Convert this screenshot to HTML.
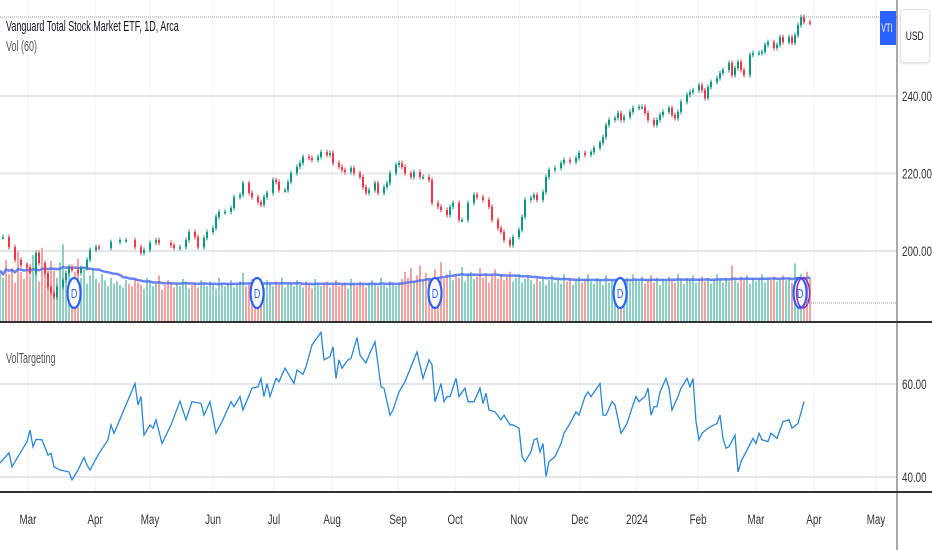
<!DOCTYPE html>
<html><head><meta charset="utf-8"><style>
html,body{margin:0;padding:0;background:#fff;width:932px;height:550px;overflow:hidden}
svg{display:block}
text{font-family:"Liberation Sans",sans-serif}
.lbl{position:absolute;font:15px 'Liberation Sans',sans-serif;transform:scaleX(0.6);transform-origin:0 0;white-space:nowrap}
</style></head><body>
<svg id="chart" width="932" height="550" viewBox="0 0 932 550">
 <g id="grid"></g>
 <g id="vol"></g>
 <g id="candles"></g>
 <g id="ind"></g>
 <g id="axes"></g>
</svg>
<script>
// ---- data ----
const priceIdx=[0,1,3,5,7,9,10,12,13,15,16,17,18,19,21,22,23,24,26,27,29,30,32,33,37,40,42,45,47,48,50,52,53,57,58,60,62,63,65,66,68,69,71,72,73,75,77,78,80,81,83,84,86,87,88,89,91,92,93,95,96,97,99,100,101,103,104,106,107,109,110,111,113,114,115,117,118,120,121,122,123,125,126,128,129,130,132,133,134,135,137,138,140,141,143,144,146,147,149,150,151,153,154,156,158,159,161,163,164,166,167,168,170,171,173,174,175,177,178,179,181,182,183,185,187,188,190,192,193,195,197,198,200,201,202,203,205,206,207,208,210,211,213,214,215,216,218,219,220,221,223,224,225,226,227,229,230,231,233,234,235,236,237,239,240,241,243,244,245,246,247,248,250,251,253,254,255,256,258,259,260,261,263,264,265,266,267,268,270];
const priceClose=[203.6,203.6,201,197.7,196.4,195.9,194.3,199.5,196.9,194.3,190.7,189.2,188.1,190.7,192.5,194.3,195.9,195.1,194.3,195.6,197.7,200.3,201,200.8,202.3,202.8,202.8,201,199.5,200.3,202.1,202.8,202.1,201.5,200.8,201,202.8,204.9,203.6,201,203.4,204.9,205.9,208.8,210.1,210.1,211.1,213.9,214.5,217.5,215,213.9,212.6,211.9,213.9,215,218.3,217.8,215.7,215.7,217.8,220.1,221.7,222.7,224.3,224,223.5,224.3,225.5,224.8,225.3,222.7,221.7,220.9,220.4,221.4,220.1,219.1,216.5,215,215.7,217.5,215,216.5,217.5,220.1,222.2,222.7,221.7,220.1,219.1,220.4,219.1,219.1,218.3,212.4,211.4,210.6,209.3,211.4,212.4,208,208,212.4,214.5,213.9,213.2,211.4,208,205.9,204.9,202.8,201.5,203.6,205.4,208.8,213.2,213.7,214.5,213.2,215.2,219.1,220.9,221.4,222.7,223.5,223,224,225.3,224.8,225.5,226.6,227.9,229.4,232.5,233.8,234.3,235.6,233.8,234.6,235.9,236.9,237.2,237.2,235.6,233.8,232.5,233.8,235.1,235.9,236.9,235.1,234.3,235.9,238.5,240.3,241,241.5,242.8,241.5,239.5,242.3,243.6,244.6,245.9,246.7,248.5,245.4,247.2,248.8,246.7,245.4,250.6,251.1,251.1,251.4,253.2,253.9,252.4,253.2,255.2,253.9,255.2,253.7,255.7,258.3,260.4,259.1,258.8];
const volumes=[4.2,3.6,5.1,3.9,4.4,3.2,5.8,4.1,3.5,4.8,3.7,5.5,4.0,3.3,6.1,4.6,3.8,5.0,4.2,3.6,4.9,6.4,3.9,4.5,3.4,4.1,5.2,3.6,4.3,3.1,3.8,4.4,3.5,3.2,3.9,3.4,2.9,3.6,3.1,3.3,3.0,2.8,3.4,3.1,2.9,3.5,3.2,3.0,2.7,3.6,3.3,2.9,3.1,3.8,2.6,3.0,3.4,3.2,2.8,3.1,2.9,3.5,3.3,2.7,3.0,3.2,2.8,3.4,3.1,2.9,3.3,3.0,2.7,3.6,3.2,2.9,3.1,3.4,2.8,3.0,3.3,4.0,2.9,3.1,3.5,2.8,3.2,3.0,2.7,3.4,3.1,2.9,3.3,3.0,3.6,2.8,3.1,3.2,2.9,3.4,3.0,2.8,3.3,3.1,2.7,3.5,3.2,2.9,3.0,3.3,2.8,3.1,3.4,2.9,3.0,3.2,2.7,3.5,3.1,2.9,3.3,3.0,2.8,3.2,3.4,3.1,2.9,3.6,3.0,2.8,3.3,3.1,2.9,3.2,3.5,4.1,3.6,4.4,3.3,3.8,4.6,3.4,4.0,3.6,3.2,4.3,3.7,4.9,3.5,3.9,4.2,3.4,3.8,3.6,4.5,3.3,3.9,4.1,3.5,3.7,4.4,3.6,4.0,3.2,3.8,4.3,3.5,3.9,3.4,3.7,4.1,3.3,3.6,3.9,3.2,3.5,3.8,3.4,3.1,3.7,3.3,3.6,3.0,3.4,3.8,3.2,3.5,3.1,3.9,3.3,3.6,3.0,3.4,3.7,3.2,3.5,3.9,3.3,3.1,3.6,3.4,3.0,3.8,3.2,3.5,3.3,3.1,3.7,3.4,3.6,3.2,3.9,3.5,3.3,3.7,3.1,3.4,3.8,3.2,3.6,3.0,3.5,3.3,3.7,3.4,3.2,3.9,3.5,3.1,3.6,3.4,3.8,3.2,3.5,3.7,3.3,3.6,3.1,3.4,3.9,3.5,3.2,3.6,3.3,4.6,3.5,3.2,3.7,3.4,3.8,3.1,3.6,3.3,3.5,3.9,3.2,3.6,3.4,3.7,3.3,3.5,3.8,3.4,3.6,3.2,4.8,3.5,3.9,3.3,4.1,3.6];
const vtIdx=[0,3,4,6,9,10,11,12,14,16,17,18,20,23,24,26,28,29,30,33,36,37,38,42,45,46,47,48,50,51,52,54,57,60,62,64,67,68,70,72,74,77,78,80,81,84,86,87,88,89,90,92,93,95,98,99,101,102,104,107,108,110,111,112,113,114,116,117,119,120,122,123,125,127,128,130,131,133,135,137,139,141,143,144,145,147,148,149,150,152,153,155,156,158,160,161,162,163,165,167,168,170,171,173,174,175,177,178,179,180,181,182,183,185,187,188,190,192,193,195,196,197,200,201,202,204,205,207,209,211,212,213,215,216,217,218,219,220,222,223,224,226,227,228,229,230,231,232,233,234,236,238,239,240,241,242,243,245,246,247,249,251,252,253,254,256,257,259,261,263,264,266,268];
const vtValues=[43,45.2,42.2,44.4,47.6,50.1,46.5,48.1,48,44.7,45.1,42.2,41.5,41.1,39.4,41.5,44.2,42.6,41.5,45.1,48,51.2,49.4,55.5,60.1,55.5,57.3,49,51.2,50.5,52.3,47.2,51.2,56.3,52.3,56.2,55.8,53.3,56.2,49.4,51.9,56.2,55.1,57.3,54.4,59.1,59.4,61.2,57.3,60.1,57.3,61.2,60.5,63.4,60.1,63,62.1,63.7,68.4,71.1,65.2,65.9,68,61.2,65.2,63.4,65.2,65.5,70,66.2,64.5,66.2,69.1,59.4,59.1,53.3,54.4,58.3,60.5,63.7,66.9,61.2,65.2,64.1,56.2,60.1,56.2,57.3,57.3,61.2,57.3,59.1,56.2,56.2,59.1,55.8,58,54.4,54,52.3,53.3,51.2,51.2,50.5,44.4,43.3,45.4,48,48.3,45.4,47.2,40.1,43.3,44.4,47.2,49.4,51.5,54,53.3,57.3,58.3,57.3,60.1,53.3,53.3,56.2,55.5,49.4,51.5,55.5,57.3,56.2,57.3,59.1,53.3,55.1,55.1,58.3,61.2,59.1,54.4,57.3,59.1,60.1,61.2,59.4,61.2,51.9,48,49.4,50.5,51.2,51.5,53.3,48.3,46.2,46.5,49,41.1,43.3,45.8,48.3,47.2,49.4,48,47.6,49.4,48.3,51.9,52.3,50.5,51.5,56.2];
const priceTicks=[200,220,240];
const priceTickLabels=["200.00","220.00","240.00"];
const vtTicks=[40,60];
const vtTickLabels=["40.00","60.00"];
const monthLabels=["Mar","Apr","May","Jun","Jul","Aug","Sep","Oct","Nov","Dec","2024","Feb","Mar","Apr","May"];
const monthIdx=[9.3,31.7,50,71,91.3,110.7,132.7,151.7,173,193.3,212.3,232.7,252,271.3,292];
const dividendIdx=[24.7,85.7,145,206.7,266.7];

// ---- scales ----
const NS="http://www.w3.org/2000/svg";
const PLOT_R=897;
const SX=0.7;
const xS=i=>i*3;
const yP=p=>251-(p-200)*3.875;
const yV=v=>477-(v-40)*4.65;
const yVol=v=>321-v*12;
function mk(tag,attrs,parent){const e=document.createElementNS(NS,tag);for(const k in attrs)e.setAttribute(k,attrs[k]);parent.appendChild(e);return e;}
function txt(parent,x,y,str,anchor,size,fill){const t=mk('text',{transform:'translate('+x+','+y+') scale('+SX+',1)','font-size':size,'text-anchor':anchor,fill:fill},parent);t.textContent=str;return t;}
const grid=document.getElementById('grid'),volG=document.getElementById('vol'),cG=document.getElementById('candles'),indG=document.getElementById('ind'),axG=document.getElementById('axes');

monthIdx.forEach((m,i)=>{const l=mk('line',{x1:xS(m),x2:xS(m),y1:0,y2:492,stroke:'#f0f3fa','stroke-width':1},grid);

});
priceTicks.forEach(p=>{const l=mk('line',{x1:0,x2:PLOT_R,y1:yP(p),y2:yP(p),stroke:'#e3e6ec','stroke-width':2},grid);

});
vtTicks.forEach(p=>{const l=mk('line',{x1:0,x2:PLOT_R,y1:yV(p),y2:yV(p),stroke:'#e3e6ec','stroke-width':2},grid);

});

function dirAt(i){for(let k=1;k<priceIdx.length;k++){if(priceIdx[k]>=i)return priceClose[k]>=priceClose[k-1];}return true;}
volumes.forEach((v,i)=>{const up=dirAt(i);const r=mk('rect',{x:xS(i)-0.9,y:yVol(v),width:1.8,height:321-yVol(v),fill:up?'#7fcabd':'#f29b98'},volG);

});
let ma=[];for(let i=0;i<volumes.length;i++){let s=0,n=0;for(let j=Math.max(0,i-19);j<=i;j++){s+=volumes[j];n++;}ma.push(s/n);}
const maPath=mk('path',{d:ma.map((v,i)=>(i?'L':'M')+xS(i)+' '+yVol(v)).join(' '),fill:'none',stroke:'#4f6ff0','stroke-width':2.5,'stroke-opacity':0.85},volG);


for(let k=1;k<priceIdx.length;k++){const o=priceClose[k-1],c=priceClose[k];const up=c>=o;const col=up?'#089981':'#f23645';
 const x=xS(priceIdx[k]);const top=yP(Math.max(o,c)),bot=yP(Math.min(o,c));
 const w=mk('line',{x1:x,x2:x,y1:top-2.5,y2:bot+2.5,stroke:col,'stroke-width':1},cG);
 
 
 const b=mk('rect',{x:x-1,y:top,width:2,height:Math.max(1.5,bot-top),fill:col},cG);
 
 }
dividendIdx.forEach((d,i)=>{const g=mk('g',{},axG);
 
 
 mk('ellipse',{cx:xS(d),cy:293,rx:6.5,ry:15,fill:'#fff',stroke:'#2962ff','stroke-width':2.2},g);
 if(i===dividendIdx.length-1)mk('ellipse',{cx:xS(d)+3,cy:293,rx:6.5,ry:15,fill:'none',stroke:'#9c27b0','stroke-width':1.5},g);
 txt(g,xS(d),298,'D','middle',13,'#2962ff');});
const vp=mk('path',{d:vtIdx.map((i,k)=>(k?'L':'M')+xS(i)+' '+yV(vtValues[k])).join(' '),fill:'none',stroke:'#2a86d6','stroke-width':1.3},indG);



mk('line',{x1:0,x2:PLOT_R,y1:17,y2:17,stroke:'#9598a1','stroke-width':1,'stroke-dasharray':'1 1'},axG);
mk('line',{x1:805,x2:PLOT_R,y1:303,y2:303,stroke:'#9598a1','stroke-width':1,'stroke-dasharray':'1 1'},axG);
mk('line',{x1:PLOT_R,x2:PLOT_R,y1:0,y2:550,stroke:'#555','stroke-width':1},axG);
mk('rect',{x:0,y:321,width:932,height:2,fill:'#333'},axG);
mk('rect',{x:0,y:491,width:932,height:2,fill:'#333'},axG);
priceTicks.forEach((p,i)=>{const t=txt(axG,902,yP(p)+5,priceTickLabels[i],'start',14,'#333');
 
 });
vtTicks.forEach((p,i)=>{const t=txt(axG,902,yV(p)+5,vtTickLabels[i],'start',14,'#333');
 
 });
monthIdx.forEach((m,i)=>{const t=txt(axG,xS(m),524,monthLabels[i],'middle',14,'#333');
 
 });
</script>
<div class="lbl" style="left:6px;top:18px;color:#131722">Vanguard Total Stock Market ETF, 1D, Arca</div>
<div class="lbl" style="left:6px;top:38px;color:#555">Vol (60)</div>
<div class="lbl" style="left:6px;top:350px;color:#555">VolTargeting</div>
<div style="position:absolute;left:880px;top:11px;width:16px;height:34px;background:#2962ff;overflow:hidden"><div style="color:#fff;font:12px 'Liberation Sans',sans-serif;line-height:34px;transform:scaleX(0.6);transform-origin:0 0;padding-left:2px">VTI</div></div>
<div style="position:absolute;left:900px;top:9px;width:28px;height:52px;border:1px solid #e0e3eb;border-radius:4px;background:#fff;box-shadow:0 1px 2px rgba(0,0,0,.1);text-align:center;line-height:52px"><span style="display:inline-block;font:12px 'Liberation Sans',sans-serif;color:#131722;transform:scaleX(0.7)">USD</span></div>
</body></html>
